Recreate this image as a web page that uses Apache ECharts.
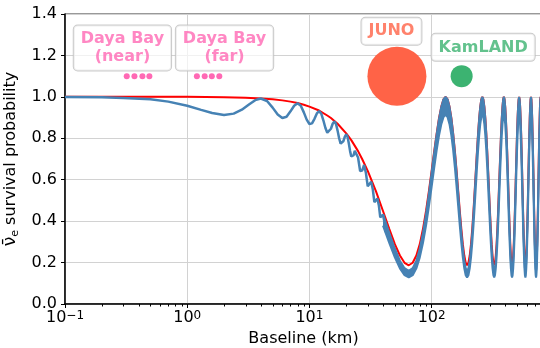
<!DOCTYPE html>
<html>
<head>
<meta charset="utf-8">
<script src="https://cdn.jsdelivr.net/npm/echarts@6/dist/echarts.min.js"></script>
<style>
  html, body { margin: 0; padding: 0; background: #ffffff; }
  #chart { width: 540px; height: 348px; }
</style>
</head>
<body>
<div id="chart"></div>
<script>
// Reactor anti-neutrino survival probability versus baseline.

// Full three-flavour curve where the fast oscillation is resolved (km, probability)
const fastBaselineKm = [0.1, 0.2, 0.3, 0.5, 0.7, 1.0, 1.3, 1.6, 2.0, 2.4, 2.8, 3.2, 3.6, 4.0,
  4.5, 5, 5.5, 6, 6.5, 7, 7.5, 8, 8.5, 9, 9.5, 10, 10.5, 11, 11.5, 12, 12.5, 13, 13.5, 14,
  14.5, 15, 15.5, 16, 16.5, 17, 17.5, 18, 18.5, 19, 19.5, 20, 20.5, 21, 21.5, 22, 22.5, 23,
  23.5, 24, 25, 26, 27, 28, 29, 30, 31, 32, 33, 34, 35, 36, 37, 38, 39, 40, 41, 42];
const fastSurvival = [0.999, 0.998, 0.995, 0.988, 0.977, 0.957, 0.937, 0.922, 0.912, 0.919, 0.938, 0.963, 0.984, 0.992,
  0.980, 0.948, 0.915, 0.898, 0.904, 0.930, 0.957, 0.969, 0.957, 0.925, 0.890, 0.869, 0.872, 0.894, 0.920, 0.931,
  0.919, 0.887, 0.851, 0.827, 0.827, 0.846, 0.870, 0.881, 0.869, 0.837, 0.800, 0.774, 0.771, 0.787, 0.808, 0.819,
  0.807, 0.776, 0.739, 0.712, 0.706, 0.719, 0.739, 0.748, 0.707, 0.642, 0.644, 0.671, 0.632, 0.568, 0.567, 0.590,
  0.554, 0.492, 0.488, 0.509, 0.476, 0.418, 0.412, 0.431, 0.400, 0.347];

// Solar-driven (slow) oscillation only, short baselines
const slowBaselineKm = [0.1, 0.3, 1, 2, 3, 4, 5, 6, 7, 8, 9, 10, 12, 14, 15, 17, 20, 22, 25, 27, 30, 35];
const slowSurvival = [1.000, 1.000, 1.000, 0.998, 0.996, 0.992, 0.988, 0.983, 0.977, 0.970, 0.962, 0.953,
  0.934, 0.910, 0.898, 0.870, 0.824, 0.791, 0.738, 0.700, 0.643, 0.545];

// Long baselines: slow curve and the envelope of the unresolved fast wiggles
const longBaselineKm = [40, 45, 50, 55, 60, 65, 70, 75, 80, 85, 90, 95, 100, 105, 110, 115, 120, 125, 130,
  135, 140, 145, 150, 155, 160, 165, 170, 175, 180, 185, 190, 195, 200, 205, 210, 215, 220, 225, 230, 235, 240, 245, 250, 255, 260,
  265, 270, 275, 280, 285, 290, 295, 300, 305, 310, 315, 320, 325, 330, 335, 340, 345, 350, 355, 360, 365, 370, 375, 380, 385, 390,
  395, 400, 405, 410, 415, 420, 425, 430, 435, 440, 445, 450, 455, 460, 465, 470, 475, 480, 485, 490, 495, 500, 505, 510, 515, 520,
  525, 530, 535, 540, 545, 550, 555, 560, 565, 570, 575, 580, 585, 590, 595, 600, 605, 610, 615, 620, 625, 630, 635, 640, 645, 650,
  655, 660, 665, 670, 675, 680, 685, 690, 695, 700, 705, 710, 715, 720, 725, 730, 735, 740, 745, 750, 755, 760, 765, 770, 775, 780,
  785, 790, 795, 800];
const slowSurvivalLong = [0.449, 0.363, 0.289, 0.234, 0.199, 0.187, 0.199, 0.234, 0.289, 0.363, 0.449, 0.545, 0.643, 0.738, 0.824, 0.898, 0.953, 0.988, 1.000,
  0.988, 0.953, 0.898, 0.824, 0.738, 0.643, 0.545, 0.449, 0.363, 0.289, 0.234, 0.199, 0.187, 0.199, 0.234, 0.289, 0.363, 0.449, 0.545, 0.643, 0.738, 0.824, 0.898, 0.953, 0.988, 1.000,
  0.988, 0.953, 0.898, 0.824, 0.738, 0.643, 0.545, 0.449, 0.363, 0.289, 0.234, 0.199, 0.187, 0.199, 0.234, 0.289, 0.363, 0.449, 0.545, 0.643, 0.738, 0.824, 0.898, 0.953, 0.988, 1.000,
  0.988, 0.953, 0.898, 0.824, 0.738, 0.643, 0.545, 0.449, 0.363, 0.289, 0.234, 0.199, 0.187, 0.199, 0.234, 0.289, 0.363, 0.449, 0.545, 0.643, 0.738, 0.824, 0.898, 0.953, 0.988, 1.000,
  0.988, 0.953, 0.898, 0.824, 0.738, 0.643, 0.545, 0.449, 0.363, 0.289, 0.234, 0.199, 0.187, 0.199, 0.234, 0.289, 0.363, 0.449, 0.545, 0.643, 0.738, 0.824, 0.898, 0.953, 0.988, 1.000,
  0.988, 0.953, 0.898, 0.824, 0.738, 0.643, 0.545, 0.449, 0.363, 0.289, 0.234, 0.199, 0.187, 0.199, 0.234, 0.289, 0.363, 0.449, 0.545, 0.643, 0.738, 0.824, 0.898, 0.953, 0.988, 1.000,
  0.988, 0.953, 0.898, 0.824];
const fastUpperLong = [0.434, 0.344, 0.268, 0.209, 0.173, 0.160, 0.173, 0.209, 0.268, 0.344, 0.434, 0.533, 0.634, 0.731, 0.820, 0.895, 0.952, 0.988, 1.000,
  0.988, 0.952, 0.895, 0.820, 0.731, 0.634, 0.533, 0.434, 0.344, 0.268, 0.209, 0.173, 0.160, 0.173, 0.209, 0.268, 0.344, 0.434, 0.533, 0.634, 0.731, 0.820, 0.895, 0.952, 0.988, 1.000,
  0.988, 0.952, 0.895, 0.820, 0.731, 0.634, 0.533, 0.434, 0.344, 0.268, 0.209, 0.173, 0.160, 0.173, 0.209, 0.268, 0.344, 0.434, 0.533, 0.634, 0.731, 0.820, 0.895, 0.952, 0.988, 1.000,
  0.988, 0.952, 0.895, 0.820, 0.731, 0.634, 0.533, 0.434, 0.344, 0.268, 0.209, 0.173, 0.160, 0.173, 0.209, 0.268, 0.344, 0.434, 0.533, 0.634, 0.731, 0.820, 0.895, 0.952, 0.988, 1.000,
  0.988, 0.952, 0.895, 0.820, 0.731, 0.634, 0.533, 0.434, 0.344, 0.268, 0.209, 0.173, 0.160, 0.173, 0.209, 0.268, 0.344, 0.434, 0.533, 0.634, 0.731, 0.820, 0.895, 0.952, 0.988, 1.000,
  0.988, 0.952, 0.895, 0.820, 0.731, 0.634, 0.533, 0.434, 0.344, 0.268, 0.209, 0.173, 0.160, 0.173, 0.209, 0.268, 0.344, 0.434, 0.533, 0.634, 0.731, 0.820, 0.895, 0.952, 0.988, 1.000,
  0.988, 0.952, 0.895, 0.820];
const fastLowerLong = [0.378, 0.295, 0.225, 0.172, 0.139, 0.128, 0.139, 0.172, 0.225, 0.295, 0.378, 0.471, 0.566, 0.658, 0.743, 0.814, 0.868, 0.902, 0.914,
  0.902, 0.868, 0.814, 0.743, 0.658, 0.566, 0.471, 0.378, 0.295, 0.225, 0.172, 0.139, 0.128, 0.139, 0.172, 0.225, 0.295, 0.378, 0.471, 0.566, 0.658, 0.743, 0.814, 0.868, 0.902, 0.914,
  0.902, 0.868, 0.814, 0.743, 0.658, 0.566, 0.471, 0.378, 0.295, 0.225, 0.172, 0.139, 0.128, 0.139, 0.172, 0.225, 0.295, 0.378, 0.471, 0.566, 0.658, 0.743, 0.814, 0.868, 0.902, 0.914,
  0.902, 0.868, 0.814, 0.743, 0.658, 0.566, 0.471, 0.378, 0.295, 0.225, 0.172, 0.139, 0.128, 0.139, 0.172, 0.225, 0.295, 0.378, 0.471, 0.566, 0.658, 0.743, 0.814, 0.868, 0.902, 0.914,
  0.902, 0.868, 0.814, 0.743, 0.658, 0.566, 0.471, 0.378, 0.295, 0.225, 0.172, 0.139, 0.128, 0.139, 0.172, 0.225, 0.295, 0.378, 0.471, 0.566, 0.658, 0.743, 0.814, 0.868, 0.902, 0.914,
  0.902, 0.868, 0.814, 0.743, 0.658, 0.566, 0.471, 0.378, 0.295, 0.225, 0.172, 0.139, 0.128, 0.139, 0.172, 0.225, 0.295, 0.378, 0.471, 0.566, 0.658, 0.743, 0.814, 0.868, 0.902, 0.914,
  0.902, 0.868, 0.814, 0.743];

// Experiments (baseline in km), drawn at a common marker level
const markerLevel = 1.1;
const dayaBayNearKm = [0.32, 0.37, 0.43, 0.49];
const dayaBayFarKm = [1.20, 1.39, 1.59, 1.83];
const junoKm = [52];
const kamlandKm = [176];

// Experiment name tags: text, baseline anchor (km), probability anchor
const tagText = ['Daya Bay\n(near)', 'Daya Bay\n(far)', 'JUNO', 'KamLAND'];
const tagKm = [0.295, 2.02, 46.9, 264];
const tagLevel = [1.236, 1.236, 1.317, 1.239];
const tagColor = ['#ff69b4', '#ff69b4', '#ff6347', '#3cb371'];

// Axis ticks
const xTickExponent = { '0.1': '\u22121', '1': '0', '10': '1', '100': '2' };
const xMinorTickKm = [0.2, 0.3, 0.4, 0.5, 0.6, 0.7, 0.8, 0.9, 2, 3, 4, 5, 6, 7, 8, 9,
  20, 30, 40, 50, 60, 70, 80, 90, 200, 300, 400, 500, 600, 700];
const yTicks = [0, 0.2, 0.4, 0.6, 0.8, 1.0, 1.2, 1.4];

const zip = (xs, ys) => xs.map((x, i) => [x, ys[i]]);

const FONT = 'DejaVu Sans';
const BLUE = '#4682b4';

const chart = echarts.init(document.getElementById('chart'), null, { renderer: 'canvas' });

const tagSeries = tagText.map((t, i) => ({
  type: 'scatter',
  symbolSize: 0,
  z: 10,
  data: [[tagKm[i], tagLevel[i]]],
  label: {
    show: true,
    position: 'inside',
    formatter: t,
    color: tagColor[i],
    fontFamily: FONT,
    fontWeight: 'bold',
    fontSize: 16,
    lineHeight: 18,
    align: 'center',
    verticalAlign: 'middle',
    backgroundColor: 'rgba(255,255,255,0.85)',
    borderColor: '#bdbdbd',
    borderWidth: 1,
    borderRadius: 4,
    padding: [5, 7, 4, 7]
  },
  silent: true
}));

// Filled band between the envelopes of the fast wiggles
function renderBand(params, api) {
  if (params.dataIndex !== 0) return null;
  const pts = [];
  for (let i = 0; i < longBaselineKm.length; i++) {
    pts.push(api.coord([longBaselineKm[i], fastUpperLong[i]]));
  }
  for (let i = longBaselineKm.length - 1; i >= 0; i--) {
    pts.push(api.coord([longBaselineKm[i], fastLowerLong[i]]));
  }
  return { type: 'polygon', shape: { points: pts }, style: { fill: BLUE } };
}

const option = {
  animation: false,
  backgroundColor: '#ffffff',
  grid: {
    left: 65, top: 14, width: 477, height: 290,
    show: true, borderColor: '#333', borderWidth: 1,
    containLabel: false, outerBoundsMode: 'none'
  },
  xAxis: {
    type: 'log',
    logBase: 10,
    min: 0.1,
    max: 800,
    name: 'Baseline (km)',
    nameLocation: 'middle',
    nameGap: 27,
    nameTextStyle: { fontFamily: FONT, fontSize: 16, color: '#000' },
    axisLine: { show: true, onZero: false, lineStyle: { color: '#000', width: 1.5 } },
    axisTick: { show: true, inside: false, length: 4, lineStyle: { color: '#000', width: 1 } },
    minorTick: { show: false },
    splitLine: { show: true, lineStyle: { color: '#d2d2d2', width: 1 } },
    axisLabel: {
      margin: 6,
      color: '#000',
      fontFamily: FONT,
      fontSize: 16,
      showMaxLabel: false,
      formatter: v => {
        const e = xTickExponent[String(+v.toPrecision(3))];
        return e === undefined ? '' : '10{sup|' + e + '}';
      },
      rich: {
        sup: { fontFamily: FONT, fontSize: 12, verticalAlign: 'top', lineHeight: 11, color: '#000' }
      }
    }
  },
  yAxis: {
    type: 'value',
    min: 0,
    max: 1.4,
    interval: 0.2,
    name: '{nu|\u03BD\u0304}{sub|e} survival probability',
    nameLocation: 'middle',
    nameGap: 40,
    nameTextStyle: {
      fontFamily: FONT, fontSize: 16, color: '#000', lineHeight: 20,
      rich: {
        nu: { fontFamily: FONT, fontSize: 17, color: '#000', lineHeight: 20 },
        sub: { fontFamily: FONT, fontSize: 11, color: '#000', lineHeight: 11, verticalAlign: 'bottom' }
      }
    },
    axisLine: { show: true, lineStyle: { color: '#000', width: 1.5 } },
    axisTick: { show: true, inside: false, length: 4, lineStyle: { color: '#000', width: 1 } },
    splitLine: { show: true, lineStyle: { color: '#d2d2d2', width: 1 } },
    axisLabel: {
      margin: 8,
      color: '#000',
      fontFamily: FONT,
      fontSize: 16,
      formatter: v => yTicks.some(t => Math.abs(t - v) < 1e-9) ? v.toFixed(1) : ''
    }
  },
  series: [
    {
      name: 'slow',
      type: 'line',
      symbol: 'none',
      z: 2,
      data: zip(slowBaselineKm.concat(longBaselineKm), slowSurvival.concat(slowSurvivalLong)),
      lineStyle: { color: '#ff0000', width: 2 }
    },
    {
      name: 'full',
      type: 'line',
      symbol: 'none',
      z: 3,
      data: zip(fastBaselineKm, fastSurvival),
      lineStyle: { color: BLUE, width: 2.5 }
    },
    {
      name: 'fullBand',
      type: 'custom',
      z: 3,
      silent: true,
      renderItem: renderBand,
      data: [[longBaselineKm[0], fastUpperLong[0]]]
    },
    {
      name: 'fullLower',
      type: 'line',
      symbol: 'none',
      z: 3,
      data: zip(longBaselineKm, fastLowerLong),
      lineStyle: { color: BLUE, width: 2 }
    },
    {
      name: 'fullUpper',
      type: 'line',
      symbol: 'none',
      z: 3,
      data: zip(longBaselineKm, fastUpperLong),
      lineStyle: { color: BLUE, width: 2 }
    },
    {
      type: 'scatter', symbol: 'circle', symbolSize: 6, z: 5,
      itemStyle: { color: '#ff69b4', opacity: 1 },
      data: dayaBayNearKm.map(k => [k, markerLevel])
    },
    {
      type: 'scatter', symbol: 'circle', symbolSize: 6, z: 5,
      itemStyle: { color: '#ff69b4', opacity: 1 },
      data: dayaBayFarKm.map(k => [k, markerLevel])
    },
    {
      type: 'scatter', symbol: 'circle', symbolSize: 59, z: 5,
      itemStyle: { color: '#ff6347', opacity: 1 },
      data: junoKm.map(k => [k, markerLevel])
    },
    {
      type: 'scatter', symbol: 'circle', symbolSize: 22, z: 5,
      itemStyle: { color: '#3cb371', opacity: 1 },
      data: kamlandKm.map(k => [k, markerLevel])
    }
  ].concat(tagSeries)
};

chart.setOption(option);

// Minor ticks of the logarithmic baseline axis, placed through the axis scale
const yBase = chart.convertToPixel({ yAxisIndex: 0 }, 0);
const minorTicks = xMinorTickKm.map(km => {
  const x = Math.round(chart.convertToPixel({ xAxisIndex: 0 }, km)) + 0.5;
  return {
    type: 'line',
    silent: true,
    shape: { x1: x, y1: yBase, x2: x, y2: yBase + 2.5 },
    style: { stroke: '#000', lineWidth: 1 }
  };
});
chart.setOption({ graphic: minorTicks });
</script>
</body>
</html>
